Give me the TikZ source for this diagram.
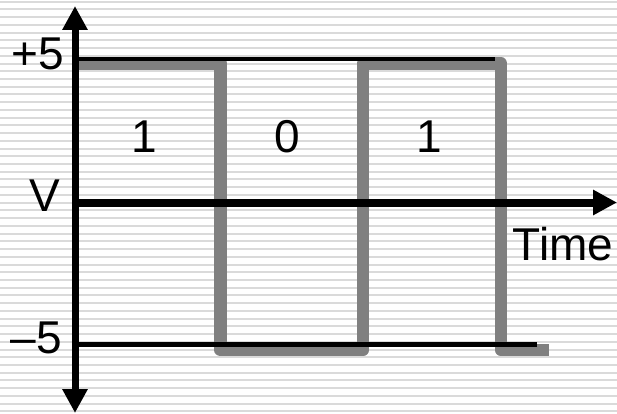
\documentclass[tikz,border=0pt]{standalone}
\usepackage{fontspec}
\setmainfont{Liberation Sans}
\usetikzlibrary{arrows.meta}
\definecolor{stripe}{HTML}{DADADA}
\definecolor{sig}{HTML}{808080}

\begin{document}
\begin{tikzpicture}[x=1pt,y=-1pt,>={Triangle[width=24pt,length=24pt]},
  lab/.style={inner sep=0pt,font=\fontsize{46}{50}\selectfont}]
  \useasboundingbox (0,0) rectangle (617,414);
  \fill[white] (0,0) rectangle (617,414);
  \foreach \i in {0,...,53}
    \fill[stripe] (0,{0.7+7.73*\i}) rectangle (617,{2.7+7.73*\i});
  % axes and levels
  \coordinate (top) at (75,6);
  \coordinate (bot) at (75,413);
  \coordinate (O) at (75,202.5);
  \coordinate (xend) at (617,202.5);
  \coordinate (hiA) at (75,59.5);
  \coordinate (hiB) at (495,59.5);
  \coordinate (loA) at (75,344.5);
  \coordinate (loB) at (537,344.5);
  % signal
  \draw[sig,line width=12.5pt,line join=round]
    (77,63.5) -- (220.5,63.5) -- (220.5,350) -- (363,350)
    -- (363,63.5) -- (501,63.5) -- (501,350) -- (549,350);
  \draw[line width=4pt] (hiA) -- (hiB);
  \draw[line width=5pt] (loA) -- (loB);
  \draw[<->,line width=7pt] (top) -- (bot);
  \draw[->,line width=8pt] (O) -- (xend);
  \node[lab] (plus) at (37.5,53.5) {+5};
  \node[lab] (minus) at (36.5,337.5) {–5};
  \node[lab] (vlab) at (45,195.5) {V};
  \node[lab] (tlab) at (563,244) {Time};
  \node[lab] (bitA) at (144,136.5) {1};
  \node[lab] (bitB) at (287.5,136.5) {0};
  \node[lab] (bitC) at (429,136.5) {1};
\end{tikzpicture}
\end{document}
